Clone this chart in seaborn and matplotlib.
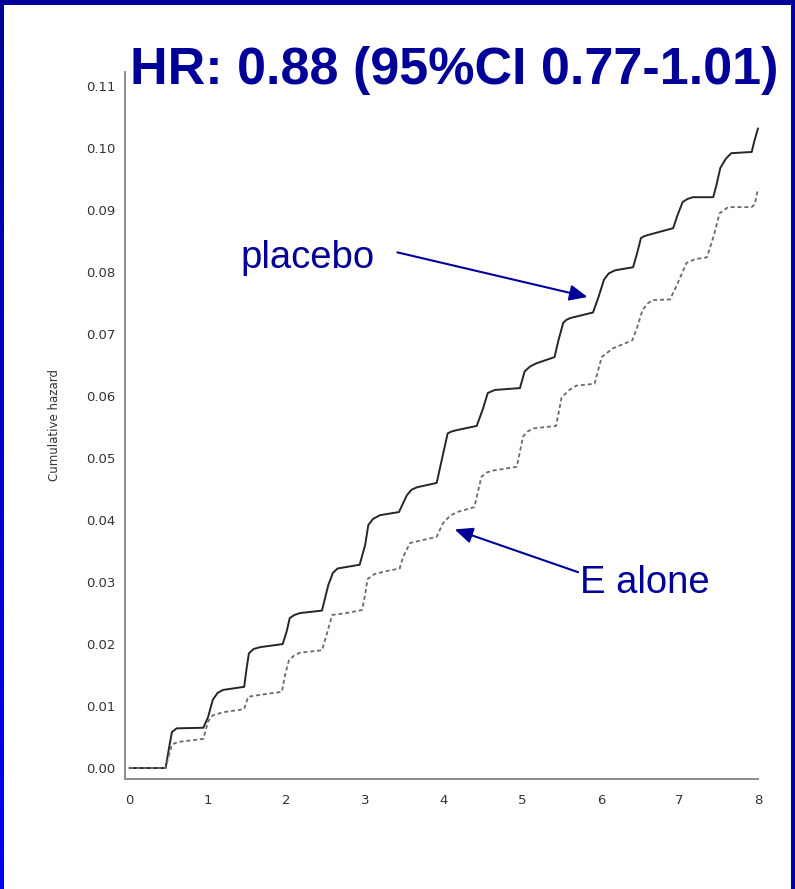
import matplotlib
matplotlib.use("Agg")
import numpy as np
import pandas as pd
import matplotlib.pyplot as plt
from matplotlib.patches import Rectangle
import seaborn as sns

# Cumulative hazard, placebo arm (years, cumulative hazard)
placebo_time = [0.00, 0.46, 0.50, 0.54, 0.60, 0.94, 1.00, 1.06, 1.12, 1.19, 1.46, 1.49,
                1.52, 1.58, 1.66, 1.95, 2.00, 2.04, 2.10, 2.17, 2.45, 2.53, 2.59, 2.65,
                2.93, 3.00, 3.04, 3.10, 3.19, 3.43, 3.53, 3.59, 3.66, 3.91, 3.98, 4.05,
                4.10, 4.16, 4.42, 4.50, 4.56, 4.65, 4.97, 5.03, 5.10, 5.18, 5.41, 5.46,
                5.52, 5.56, 5.61, 5.90, 5.97, 6.04, 6.10, 6.18, 6.41, 6.46, 6.51, 6.55,
                6.60, 6.92, 6.97, 7.04, 7.10, 7.17, 7.43, 7.47, 7.52, 7.59, 7.66, 7.92,
                7.95, 8.00]
placebo_hazard = [0.0000, 0.0000, 0.0030, 0.0058, 0.0064, 0.0065, 0.0082, 0.0110, 0.0121,
                  0.0126, 0.0131, 0.0160, 0.0185, 0.0192, 0.0195, 0.0200, 0.0220, 0.0242,
                  0.0247, 0.0250, 0.0254, 0.0295, 0.0315, 0.0322, 0.0328, 0.0360, 0.0392,
                  0.0402, 0.0408, 0.0413, 0.0440, 0.0449, 0.0453, 0.0460, 0.0500, 0.0540,
                  0.0543, 0.0545, 0.0552, 0.0580, 0.0605, 0.0610, 0.0613, 0.0640, 0.0648,
                  0.0653, 0.0663, 0.0690, 0.0718, 0.0723, 0.0726, 0.0735, 0.0760, 0.0788,
                  0.0798, 0.0803, 0.0808, 0.0830, 0.0855, 0.0858, 0.0860, 0.0871, 0.0890,
                  0.0913, 0.0918, 0.0921, 0.0921, 0.0940, 0.0968, 0.0983, 0.0992, 0.0994,
                  0.1010, 0.1032]

# Cumulative hazard, E alone arm
alone_time = [0.00, 0.46, 0.50, 0.54, 0.62, 0.94, 1.00, 1.06, 1.19, 1.46, 1.51, 1.66,
              1.94, 1.98, 2.03, 2.10, 2.17, 2.45, 2.52, 2.58, 2.76, 2.96, 3.00, 3.03,
              3.12, 3.28, 3.44, 3.48, 3.57, 3.91, 3.99, 4.08, 4.17, 4.39, 4.48, 4.55,
              4.63, 4.93, 5.01, 5.07, 5.14, 5.43, 5.50, 5.60, 5.69, 5.92, 6.01, 6.15,
              6.40, 6.46, 6.53, 6.60, 6.66, 6.88, 6.97, 7.09, 7.20, 7.35, 7.44, 7.51,
              7.62, 7.92, 7.96, 8.00]
alone_hazard = [0.0000, 0.0000, 0.0020, 0.0038, 0.0042, 0.0047, 0.0075, 0.0085, 0.0090,
                0.0095, 0.0115, 0.0118, 0.0123, 0.0150, 0.0174, 0.0182, 0.0186, 0.0190,
                0.0220, 0.0247, 0.0250, 0.0255, 0.0280, 0.0305, 0.0313, 0.0318, 0.0322,
                0.0340, 0.0363, 0.0373, 0.0395, 0.0407, 0.0413, 0.0421, 0.0470, 0.0477,
                0.0480, 0.0486, 0.0535, 0.0543, 0.0548, 0.0552, 0.0598, 0.0610, 0.0617,
                0.0620, 0.0663, 0.0677, 0.0690, 0.0710, 0.0739, 0.0750, 0.0755, 0.0756,
                0.0780, 0.0815, 0.0821, 0.0824, 0.0860, 0.0895, 0.0905, 0.0905, 0.0910,
                0.0935]

x_ticks = [0, 1, 2, 3, 4, 5, 6, 7, 8]
y_ticks = [0.00, 0.01, 0.02, 0.03, 0.04, 0.05, 0.06, 0.07, 0.08, 0.09, 0.10, 0.11]
y_tick_labels = ["0.00", "0.01", "0.02", "0.03", "0.04", "0.05",
                 "0.06", "0.07", "0.08", "0.09", "0.10", "0.11"]
y_label = "Cumulative hazard"
title_text = "HR: 0.88 (95%CI 0.77-1.01)"
label_placebo = "placebo"
label_alone = "E alone"

sns.set_style("white")
plt.rcParams["font.family"] = ["DejaVu Sans"]

W, H = 795, 889
fig = plt.figure(figsize=(W / 100, H / 100), dpi=100)
fig.patch.set_facecolor("white")

ax = fig.add_axes([125 / W, 1 - 779 / H, (758 - 125) / W, (779 - 72) / H])
ax.set_facecolor("white")

df_placebo = pd.DataFrame({"time": placebo_time, "hazard": placebo_hazard})
df_alone = pd.DataFrame({"time": alone_time, "hazard": alone_hazard})

sns.lineplot(data=df_placebo, x="time", y="hazard", estimator=None, sort=False,
             color="#262626", lw=1.4, ax=ax, clip_on=False,
             solid_joinstyle="round", solid_capstyle="round")
sns.lineplot(data=df_alone, x="time", y="hazard", estimator=None, sort=False,
             color="#6a6a6a", lw=1.3, linestyle=(0, (2.2, 1.6)), ax=ax, clip_on=False)

ax.set_xlim(-0.057, 8.0)
ax.set_ylim(-0.00177, 0.1123)
ax.set_xticks(x_ticks)
ax.set_xticklabels([str(t) for t in x_ticks])
ax.set_yticks(y_ticks)
ax.set_yticklabels(y_tick_labels)
ax.set_xlabel("")
ax.set_ylabel("")

for side in ("top", "right"):
    ax.spines[side].set_visible(False)
for side in ("left", "bottom"):
    ax.spines[side].set_color("#8c8c8c")
    ax.spines[side].set_linewidth(1.4)

ax.tick_params(axis="both", direction="out", length=3.6, width=1.0, color="#8c8c8c",
               labelsize=9.5, labelcolor="#333333")
ax.tick_params(axis="y", pad=3)
ax.tick_params(axis="x", pad=7)

fig.text(55 / W, 1 - 425 / H, y_label, rotation=90, ha="center", va="center",
         fontsize=8.5, color="#333333")

navy = "#000099"
fig.text(130 / W, 1 - 84 / H, title_text, ha="left", va="baseline",
         fontsize=37.5, fontweight="bold", color=navy, family="Liberation Sans")

# Curve labels with arrows
ax.text(1.41, 0.0806, label_placebo, ha="left", va="baseline", fontsize=27.5,
        color=navy, family="Liberation Sans")
ax.text(5.74, 0.0282, label_alone, ha="left", va="baseline", fontsize=27.5,
        color=navy, family="Liberation Sans")

arrow_kw = dict(arrowstyle="-|>,head_length=0.9,head_width=0.4", color=navy, lw=1.5,
                mutation_scale=12, shrinkA=0, shrinkB=0)
ax.annotate("", xy=(5.83, 0.0760), xytext=(3.41, 0.0832), arrowprops=arrow_kw)
ax.annotate("", xy=(4.14, 0.0385), xytext=(5.71, 0.0316), arrowprops=arrow_kw)

# Slide frame: navy top and right edges, blue gradient on the left edge
fig.patches.append(Rectangle((0, 1 - 5 / H), 1, 5 / H, transform=fig.transFigure,
                             facecolor="#00009a", edgecolor="none", zorder=10))
fig.patches.append(Rectangle(((W - 4) / W, 0), 4 / W, 1, transform=fig.transFigure,
                             facecolor="#00009a", edgecolor="none", zorder=10))
edge_ax = fig.add_axes([0, 0, 4 / W, 1])
grad = np.linspace(0, 1, 256).reshape(-1, 1)
top_c = np.array([0.0, 0.0, 0.60])
bot_c = np.array([0.0, 0.0, 1.0])
img = top_c[None, None, :] * (1 - grad[:, :, None]) + bot_c[None, None, :] * grad[:, :, None]
edge_ax.imshow(img, aspect="auto", extent=(0, 1, 0, 1), origin="upper")
edge_ax.set_axis_off()

fig.savefig("out.png", dpi=100, facecolor="white")
